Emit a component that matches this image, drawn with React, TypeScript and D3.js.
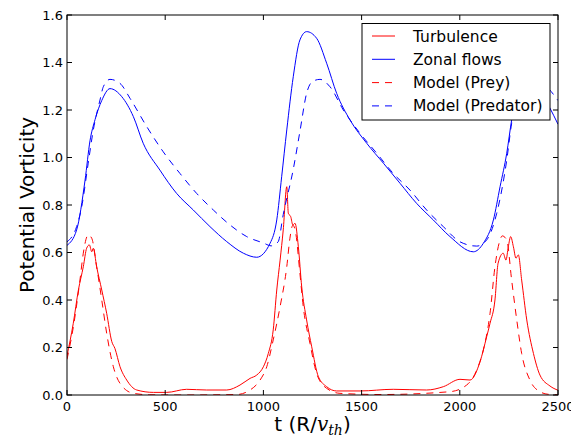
import React, { useEffect, useRef } from 'react';
import * as d3 from 'd3';

// values
const zonalT = [0, 49, 92, 117, 143, 177, 219, 279, 338, 388, 473, 558, 643, 728, 813, 898, 966, 1034, 1068, 1093, 1119, 1152, 1186, 1220, 1271, 1322, 1373, 1441, 1526, 1611, 1696, 1780, 1865, 1950, 2069, 2120, 2171, 2205, 2239, 2264, 2290, 2320, 2350, 2400, 2455, 2500];
const zonalV = [0.63, 0.695, 0.905, 1.07, 1.16, 1.24, 1.29, 1.256, 1.172, 1.06, 0.947, 0.849, 0.779, 0.709, 0.646, 0.597, 0.58, 0.639, 0.737, 0.919, 1.116, 1.34, 1.495, 1.53, 1.502, 1.397, 1.27, 1.158, 1.06, 0.976, 0.891, 0.807, 0.737, 0.667, 0.603, 0.639, 0.737, 0.877, 1.018, 1.158, 1.27, 1.33, 1.34, 1.29, 1.214, 1.14];

const predT = [0, 49, 75, 108, 134, 168, 185, 219, 270, 321, 406, 490, 575, 660, 745, 830, 915, 1000, 1040, 1075, 1101, 1152, 1186, 1220, 1250, 1288, 1339, 1407, 1492, 1577, 1661, 1746, 1831, 1916, 2001, 2086, 2137, 2188, 2239, 2264, 2300, 2340, 2380, 2440, 2500];
const predV = [0.645, 0.709, 0.793, 0.976, 1.116, 1.242, 1.298, 1.329, 1.312, 1.249, 1.13, 1.024, 0.933, 0.849, 0.779, 0.716, 0.667, 0.64, 0.628, 0.645, 0.76, 0.95, 1.11, 1.27, 1.32, 1.329, 1.298, 1.2, 1.102, 1.018, 0.933, 0.863, 0.779, 0.709, 0.645, 0.627, 0.653, 0.765, 0.989, 1.144, 1.27, 1.32, 1.33, 1.3, 1.24];

const turbT = [0, 32, 58, 83, 100, 114, 126, 134, 151, 177, 202, 228, 244, 270, 304, 355, 440, 508, 609, 711, 813, 881, 932, 966, 1000, 1025, 1050, 1068, 1085, 1101, 1119, 1127, 1139, 1150, 1161, 1178, 1195, 1220, 1246, 1280, 1322, 1373, 1492, 1661, 1831, 1916, 2001, 2052, 2103, 2137, 2154, 2179, 2195, 2221, 2235, 2247, 2259, 2273, 2286, 2298, 2315, 2341, 2375, 2408, 2459, 2500];
const turbV = [0.165, 0.302, 0.442, 0.54, 0.618, 0.632, 0.603, 0.618, 0.54, 0.442, 0.344, 0.225, 0.196, 0.119, 0.063, 0.021, 0.011, 0.011, 0.024, 0.021, 0.021, 0.042, 0.07, 0.084, 0.119, 0.175, 0.274, 0.442, 0.568, 0.695, 0.877, 0.765, 0.751, 0.716, 0.723, 0.624, 0.456, 0.316, 0.203, 0.077, 0.035, 0.017, 0.017, 0.024, 0.021, 0.035, 0.066, 0.063, 0.14, 0.246, 0.302, 0.4, 0.555, 0.597, 0.568, 0.624, 0.667, 0.624, 0.576, 0.59, 0.484, 0.316, 0.175, 0.084, 0.038, 0.02];

const preyT = [0, 35, 66, 83, 108, 126, 151, 177, 202, 236, 270, 338, 420, 600, 864, 932, 983, 1017, 1050, 1085, 1119, 1135, 1150, 1165, 1185, 1203, 1237, 1271, 1322, 1390, 1600, 1950, 2035, 2086, 2120, 2154, 2179, 2205, 2216, 2239, 2264, 2290, 2315, 2357, 2408, 2450, 2500];
const preyV = [0.15, 0.3, 0.484, 0.597, 0.674, 0.66, 0.54, 0.4, 0.26, 0.119, 0.049, 0.007, 0.001, 0.0, 0.002, 0.021, 0.063, 0.119, 0.232, 0.372, 0.54, 0.66, 0.715, 0.68, 0.52, 0.372, 0.218, 0.091, 0.028, 0.007, 0.002, 0.014, 0.042, 0.105, 0.19, 0.344, 0.54, 0.653, 0.67, 0.653, 0.484, 0.316, 0.175, 0.063, 0.014, 0.003, 0.001];

const xTicks = [0, 500, 1000, 1500, 2000, 2500];
const yTicks = [0.0, 0.2, 0.4, 0.6, 0.8, 1.0, 1.2, 1.4, 1.6];

const series = [
  { name: 'Turbulence', t: turbT, v: turbV, color: '#ff0000', dash: null },
  { name: 'Zonal flows', t: zonalT, v: zonalV, color: '#0000ff', dash: null },
  { name: 'Model (Prey)', t: preyT, v: preyV, color: '#ff0000', dash: '7,6' },
  { name: 'Model (Predator)', t: predT, v: predV, color: '#0000ff', dash: '7,6' },
];

function App() {
  return (
    <div>
      <VorticityChart />
    </div>
  );
}

function VorticityChart() {
  const ref = useRef(null);

  useEffect(() => {
    if (!ref.current) return;
    const width = 571;
    const height = 439;
    const margin = { top: 15, right: 13, bottom: 44, left: 67 };
    const w = width - margin.left - margin.right;
    const h = height - margin.top - margin.bottom;
    const font = 'DejaVu Sans, sans-serif';

    d3.select(ref.current).select('svg').remove();

    const svg = d3.select(ref.current)
      .append('svg')
      .attr('width', width)
      .attr('height', height)
      .style('position', 'absolute')
      .style('left', 0)
      .style('top', 0)
      .style('background', '#fff');

    const g = svg.append('g').attr('transform', `translate(${margin.left},${margin.top})`);

    const x = d3.scaleLinear().domain([0, 2500]).range([0, w]);
    const y = d3.scaleLinear().domain([0, 1.6]).range([h, 0]);

    // clip so the curves stay in the frame
    svg.append('defs').append('clipPath').attr('id', 'plotclip')
      .append('rect').attr('width', w).attr('height', h);

    const line = d3.line()
      .x(d => x(d[0]))
      .y(d => y(d[1]))
      .curve(d3.curveMonotoneX);

    const plot = g.append('g').attr('clip-path', 'url(#plotclip)');
    series.forEach(s => {
      const pts = s.t.map((t, i) => [t, s.v[i]]);
      plot.append('path')
        .datum(pts)
        .attr('d', line)
        .attr('fill', 'none')
        .attr('stroke', s.color)
        .attr('stroke-width', 1)
        .attr('stroke-dasharray', s.dash);
    });

    // frame
    g.append('rect')
      .attr('width', w).attr('height', h)
      .attr('fill', 'none').attr('stroke', '#000').attr('stroke-width', 1);

    // ticks inside, on all sides
    const tl = 5;
    xTicks.forEach(t => {
      g.append('line').attr('x1', x(t)).attr('x2', x(t)).attr('y1', h).attr('y2', h - tl).attr('stroke', '#000');
      g.append('line').attr('x1', x(t)).attr('x2', x(t)).attr('y1', 0).attr('y2', tl).attr('stroke', '#000');
      g.append('text')
        .attr('x', x(t)).attr('y', h + 15.5)
        .attr('text-anchor', 'middle')
        .style('font-family', font).style('font-size', '13px')
        .text(t);
    });
    yTicks.forEach(v => {
      g.append('line').attr('x1', 0).attr('x2', tl).attr('y1', y(v)).attr('y2', y(v)).attr('stroke', '#000');
      g.append('line').attr('x1', w).attr('x2', w - tl).attr('y1', y(v)).attr('y2', y(v)).attr('stroke', '#000');
      g.append('text')
        .attr('x', -4).attr('y', y(v) + 4.5)
        .attr('text-anchor', 'end')
        .style('font-family', font).style('font-size', '13px')
        .text(v.toFixed(1));
    });

    // axis labels
    svg.append('text')
      .attr('transform', `translate(34,${margin.top + h / 2}) rotate(-90)`)
      .attr('text-anchor', 'middle')
      .style('font-family', font).style('font-size', '20px')
      .text('Potential Vorticity');

    const xl = svg.append('text')
      .attr('x', margin.left + w / 2).attr('y', 431)
      .attr('text-anchor', 'middle')
      .style('font-family', font).style('font-size', '20px');
    xl.append('tspan').text('t (R/');
    xl.append('tspan').style('font-family', 'DejaVu Serif, serif').style('font-style', 'italic').text('v');
    xl.append('tspan').attr('dy', 4).style('font-family', 'DejaVu Serif, serif').style('font-style', 'italic').style('font-size', '14px').text('th');
    xl.append('tspan').attr('dy', -4).text(')');

    // legend
    const lg = svg.append('g').attr('transform', 'translate(362,23.5)');
    lg.append('rect')
      .attr('width', 188).attr('height', 96.5)
      .attr('fill', '#fff').attr('stroke', '#000').attr('stroke-width', 1);
    series.forEach((s, i) => {
      const cy = 12.5 + i * 23.3;
      lg.append('line')
        .attr('x1', 10).attr('x2', 33).attr('y1', cy).attr('y2', cy)
        .attr('stroke', s.color).attr('stroke-width', 1)
        .attr('stroke-dasharray', s.dash);
      lg.append('text')
        .attr('x', 51).attr('y', cy + 5.5)
        .style('font-family', font).style('font-size', '15.5px')
        .text(s.name);
    });
  }, []);

  return <div ref={ref} />;
}

export default App;
